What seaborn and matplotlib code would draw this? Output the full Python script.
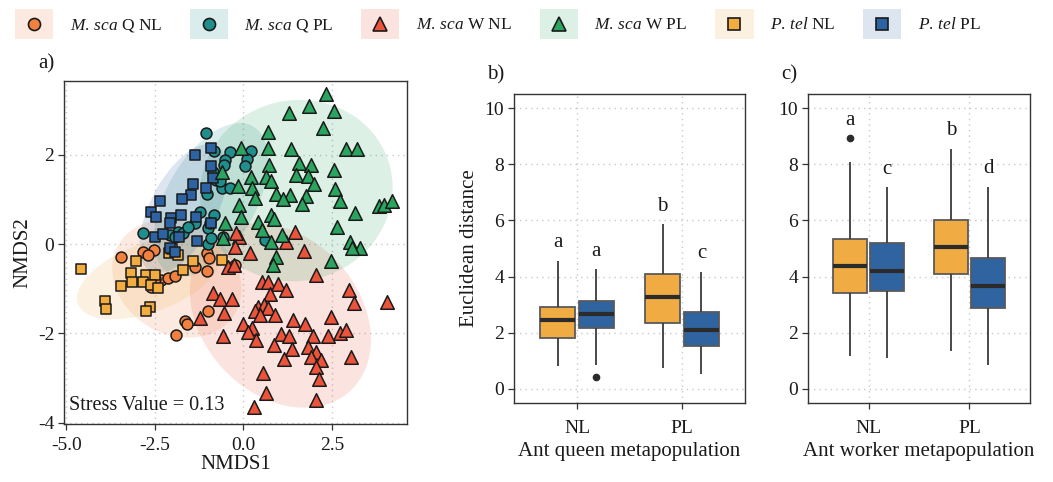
import numpy as np
import pandas as pd
import matplotlib
matplotlib.use("Agg")
import matplotlib.pyplot as plt
import seaborn as sns
from matplotlib.patches import Ellipse, Rectangle
from matplotlib.lines import Line2D

# ---------------- data: panel a (NMDS scores) ----------------
mq_nl_x = [-3.45, -2.85, -2.54, -2.60, -2.32, -2.13, -1.94, -1.38, -1.03, -1.00, -1.66, -1.60,
           -1.92, -0.25, -1.04, -0.97, -2.70, -2.49]
mq_nl_y = [-0.28, -0.17, -0.13, -0.96, -0.81, -0.77, -0.71, -0.51, -0.60, -1.50, -1.72, -1.79,
           -2.04, -0.46, -0.21, -0.32, -0.25, -0.79]

mq_pl_x = [-1.05, -0.82, -0.39, -0.51, -0.56, 0.21, 0.11, 0.04, -0.77, -0.60, -0.39, -1.02,
           -0.82, -1.24, -1.38, -1.00, -0.58, -2.83, -1.85, -1.71, -2.08, -1.94, -1.00, 0.60,
           -0.85, -0.67, -1.56, -0.95, -0.93]
mq_pl_y = [2.48, 2.08, 2.07, 1.88, 1.77, 2.09, 1.90, 1.75, 1.43, 1.25, 1.25, 1.13,
           0.65, 0.72, 0.46, 0.35, 0.16, 0.24, 0.28, 0.24, 0.20, 0.16, 0.01, 0.09,
           1.62, 1.40, 0.39, 0.46, 0.13]

mw_nl_x = [0.18, 1.71, 2.06, 0.51, 0.69, 0.98, 1.21, 2.98, 0.74, 3.12, 4.06, 0.41, 0.58, 0.69,
           0.32, 0.88, 0.46, 1.40, 1.75, 2.46, -0.01, 0.24, 0.13, 1.07, 1.28, 1.96, 2.40, 2.74,
           2.90, 0.35, 0.86, 1.37, 1.82, 2.06, 1.92, 2.18, 1.15, 3.04, 2.06, 0.54, 2.13, 0.63,
           2.04, 0.30, -0.43, -0.26, -0.12, -0.24, -0.85, -0.67, -0.32, -1.23, -0.55, -0.59,
           1.45, 1.21, -0.20]
mw_nl_y = [-0.21, -0.16, -0.69, -0.86, -0.86, -0.90, -1.03, -1.03, -1.13, -1.31, -1.29, -1.40,
           -1.37, -1.44, -1.51, -1.60, -1.59, -1.70, -1.79, -1.64, -1.78, -1.87, -1.98, -2.02,
           -2.07, -2.05, -2.07, -2.00, -1.93, -2.15, -2.26, -2.35, -2.31, -2.41, -2.52, -2.60,
           -2.57, -2.54, -2.75, -2.88, -3.02, -3.34, -3.49, -3.66, -0.51, -0.47, 0.16, -0.06,
           -1.10, -1.22, -1.22, -1.66, -1.55, -2.07, 0.28, 0.05, 0.25]

mw_pl_x = [2.32, 1.84, 2.55, 1.29, 2.24, 0.69, -0.08, 0.69, 1.33, 2.90, 3.21, 0.72, 1.57, 1.90,
           2.55, 0.21, 0.65, 1.49, 1.82, -0.15, 0.23, 0.77, 1.99, 2.60, 0.91, 1.31, 1.12, 0.32,
           1.77, 2.74, 1.66, -0.12, 3.14, 0.77, 0.86, 3.84, 3.98, 4.19, -0.06, 2.65, 0.41, 1.10,
           0.51, 0.79, 3.00, 3.28, 3.07, 0.93, 0.84, 2.46, -0.53, -0.58, -0.62]
mw_pl_y = [3.36, 3.09, 2.98, 2.94, 2.59, 2.50, 2.14, 2.14, 2.12, 2.12, 2.12, 1.78, 1.81, 1.78,
           1.66, 1.51, 1.49, 1.54, 1.53, 1.30, 1.25, 1.40, 1.34, 1.23, 1.13, 1.10, 1.01, 1.02,
           1.07, 0.96, 0.89, 0.87, 0.70, 0.65, 0.55, 0.84, 0.87, 0.97, 0.61, 0.39, 0.50, 0.20,
           0.31, 0.05, 0.05, -0.10, -0.08, -0.30, -0.47, -0.37, 0.48, 0.14, 1.62]

pt_nl_x = [-4.60, -3.92, -3.87, -3.04, -3.19, -3.14, -3.46, -2.76, -2.51, -2.84, -2.60, -2.41,
           -2.63, -2.74, -2.10, -1.85, -1.43, -1.71, -0.60, -2.01]
pt_nl_y = [-0.56, -1.28, -1.46, -0.37, -0.66, -0.86, -0.93, -0.69, -0.69, -0.84, -0.92, -0.99,
           -1.42, -1.51, -0.19, -0.25, -0.38, -0.58, -0.36, -0.12]

pt_pl_x = [-1.38, -0.93, -0.91, -0.86, -1.07, -1.43, -1.47, -1.73, -2.37, -2.60, -2.46, -2.04,
           -1.76, -2.07, -1.35, -0.91, -2.51, -2.27, -1.82, -1.31, -2.08, -1.93]
pt_pl_y = [1.99, 2.14, 1.75, 1.47, 1.26, 1.34, 1.10, 1.01, 0.97, 0.71, 0.61, 0.59,
           0.65, 0.48, 0.61, 0.48, 0.15, 0.22, 0.15, 0.07, -0.10, -0.17]

groups = ["M. sca Q NL", "M. sca Q PL", "M. sca W NL", "M. sca W PL", "P. tel NL", "P. tel PL"]
group_labels = [r"$\mathit{M.\,sca}$ Q NL", r"$\mathit{M.\,sca}$ Q PL",
                r"$\mathit{M.\,sca}$ W NL", r"$\mathit{M.\,sca}$ W PL",
                r"$\mathit{P.\,tel}$ NL", r"$\mathit{P.\,tel}$ PL"]
group_x = [mq_nl_x, mq_pl_x, mw_nl_x, mw_pl_x, pt_nl_x, pt_pl_x]
group_y = [mq_nl_y, mq_pl_y, mw_nl_y, mw_pl_y, pt_nl_y, pt_pl_y]
stress_value = 0.13

# ---------------- data: panels b and c (box summaries) ----------------
box_x = ["NL", "NL", "PL", "PL"]          # ant metapopulation
box_hue = ["NL", "PL", "NL", "PL"]        # P. tel metapopulation
# panel b: queen
q_low = [0.83, 0.85, 0.74, 0.53]
q_q1 = [1.80, 2.16, 2.34, 1.52]
q_med = [2.46, 2.67, 3.26, 2.11]
q_q3 = [2.93, 3.12, 4.09, 2.73]
q_high = [4.54, 4.27, 5.87, 4.18]
q_out = [None, 0.42, None, None]
q_letters = ["a", "a", "b", "c"]
q_letter_y = [5.04, 4.74, 6.35, 4.65]
# panel c: worker
w_low = [1.19, 1.10, 1.34, 0.85]
w_q1 = [3.42, 3.48, 4.09, 2.87]
w_med = [4.39, 4.21, 5.06, 3.68]
w_q3 = [5.34, 5.20, 6.00, 4.66]
w_high = [8.07, 7.18, 8.54, 7.19]
w_out = [8.94, None, None, None]
w_letters = ["a", "c", "b", "d"]
w_letter_y = [9.41, 7.65, 9.04, 7.67]

# ---------------- style ----------------
colors = {"M. sca Q NL": "#F2813F", "M. sca Q PL": "#1F8E8C", "M. sca W NL": "#EC533B",
          "M. sca W PL": "#2AA55F", "P. tel NL": "#F2AC40", "P. tel PL": "#2D63A2"}
markers = {"M. sca Q NL": "o", "M. sca Q PL": "o", "M. sca W NL": "^",
           "M. sca W PL": "^", "P. tel NL": "s", "P. tel PL": "s"}
msize = {"o": 62, "^": 95, "s": 58}
box_palette = {"NL": "#F0AB42", "PL": "#2F64A0"}

sns.set_theme(style="white")
plt.rcParams.update({
    "font.family": ["Liberation Serif", "DejaVu Serif"],
    "mathtext.fontset": "custom",
    "mathtext.rm": "Liberation Serif",
    "mathtext.it": "Liberation Serif:italic",
    "axes.unicode_minus": False,
    "axes.edgecolor": "#333333",
    "axes.linewidth": 1.0,
    "text.color": "#1a1a1a",
    "axes.labelcolor": "#1a1a1a",
    "xtick.color": "#333333",
    "ytick.color": "#333333",
    "xtick.labelcolor": "#1a1a1a",
    "ytick.labelcolor": "#1a1a1a",
})

W, H = 1053, 482
fig = plt.figure(figsize=(W / 100, H / 100), dpi=100)

def px_axes(l, t, r, b):
    return fig.add_axes([l / W, 1 - b / H, (r - l) / W, (b - t) / H])

ax_a = px_axes(64, 81, 407, 424)
ax_b = px_axes(514, 94, 745, 403)
ax_c = px_axes(808, 94, 1030, 403)

grid_kw = dict(color="#c9c9c9", linestyle=(0, (1, 3)), linewidth=1.0)
for ax in (ax_a, ax_b, ax_c):
    ax.set_axisbelow(True)
    ax.grid(True, **grid_kw)
    ax.tick_params(axis="both", which="major", length=4, width=0.9, direction="out",
                   labelsize=14, bottom=True, left=True, pad=3)
    for s in ax.spines.values():
        s.set_visible(True)
        s.set_color("#333333")
        s.set_linewidth(1.0)

# ---------------- panel a ----------------
rows = []
for g, xs, ys in zip(groups, group_x, group_y):
    for xv, yv in zip(xs, ys):
        rows.append({"NMDS1": xv, "NMDS2": yv, "group": g})
df_a = pd.DataFrame(rows)

ell_scale = 2.2
for g in groups:
    sub = df_a[df_a.group == g]
    cov = np.cov(sub.NMDS1, sub.NMDS2)
    vals, vecs = np.linalg.eigh(cov)
    order = vals.argsort()[::-1]
    vals, vecs = vals[order], vecs[:, order]
    ang = np.degrees(np.arctan2(vecs[1, 0], vecs[0, 0]))
    e = Ellipse((sub.NMDS1.mean(), sub.NMDS2.mean()), 2 * ell_scale * np.sqrt(vals[0]),
                2 * ell_scale * np.sqrt(vals[1]), angle=ang, facecolor=colors[g],
                alpha=0.16, edgecolor="none", zorder=1)
    ax_a.add_patch(e)

for g in ["M. sca Q NL", "M. sca Q PL", "P. tel NL", "P. tel PL", "M. sca W NL", "M. sca W PL"]:
    sub = df_a[df_a.group == g]
    sns.scatterplot(data=sub, x="NMDS1", y="NMDS2", color=colors[g], marker=markers[g],
                    s=msize[markers[g]], edgecolor="#1a1a1a", linewidth=1.1, legend=False,
                    ax=ax_a, zorder=3)

ax_a.set_xlim(-5.07, 4.62)
ax_a.set_ylim(-4.03, 3.65)
ax_a.set_xticks([-5.0, -2.5, 0.0, 2.5])
ax_a.set_xticklabels(["-5.0", "-2.5", "0.0", "2.5"])
ax_a.set_yticks([-4, -2, 0, 2])
ax_a.set_yticklabels(["-4", "-2", "0", "2"])
ax_a.tick_params(axis="x", pad=5)
ax_a.set_xlabel("NMDS1", fontsize=15, labelpad=1)
ax_a.set_ylabel("NMDS2", fontsize=15, labelpad=4)
ax_a.text(-4.92, -3.62, f"Stress Value = {stress_value:.2f}", fontsize=14.5, va="center", ha="left",
          zorder=5)

# ---------------- panels b, c ----------------
def box_frame(low, q1, med, q3, high, out):
    rows = []
    for xv, hv, lo, a, m, b, hi, o in zip(box_x, box_hue, low, q1, med, q3, high, out):
        if o is None:
            vals = [lo, a, m, b, hi]
        elif o < lo:
            vals = [o, lo, a, a, m, b, b, hi, hi]
        else:
            vals = [lo, lo, a, a, m, b, b, hi, o]
        for v in vals:
            rows.append({"pop": xv, "ptel": hv, "dist": v})
    return pd.DataFrame(rows)

def draw_box(ax, df, letters, letter_y, xlabel):
    sns.boxplot(data=df, x="pop", y="dist", hue="ptel", order=["NL", "PL"], hue_order=["NL", "PL"],
                palette=box_palette, saturation=1, width=0.74, gap=0.09, showcaps=False,
                linecolor="#5a5a5a", linewidth=1.3, fliersize=4.5, legend=False, ax=ax,
                medianprops=dict(color="#2b2b2b", linewidth=3),
                whiskerprops=dict(color="#3a3a3a", linewidth=1.3),
                flierprops=dict(marker="o", markerfacecolor="#2b2b2b", markeredgecolor="#2b2b2b"))
    pos = {"NL": 0, "PL": 1}
    off = {"NL": -0.185, "PL": 0.185}
    for xv, hv, lab, ly in zip(box_x, box_hue, letters, letter_y):
        ax.text(pos[xv] + off[hv], ly, lab, ha="center", va="baseline", fontsize=15)
    ax.set_xlim(-0.6, 1.6)
    ax.set_ylim(-0.5, 10.5)
    ax.set_yticks([0, 2, 4, 6, 8, 10])
    ax.tick_params(axis="x", pad=8)
    ax.set_xlabel(xlabel, fontsize=15, labelpad=4)
    ax.grid(True, **grid_kw)

draw_box(ax_b, box_frame(q_low, q_q1, q_med, q_q3, q_high, q_out), q_letters, q_letter_y,
         "Ant queen metapopulation")
ax_b.set_ylabel("Euclidean distance", fontsize=15, labelpad=4)
draw_box(ax_c, box_frame(w_low, w_q1, w_med, w_q3, w_high, w_out), w_letters, w_letter_y,
         "Ant worker metapopulation")
ax_c.set_ylabel("")

# ---------------- panel tags ----------------
fig.text(38 / W, 1 - 64 / H, "a)", fontsize=15, va="center")
fig.text(487 / W, 1 - 75 / H, "b)", fontsize=15, va="center")
fig.text(781 / W, 1 - 75 / H, "c)", fontsize=15, va="center")

# ---------------- legend ----------------
class KeyHandle:
    def __init__(self, color, marker, size):
        self.color, self.marker, self.size = color, marker, size

class KeyHandler:
    def legend_artist(self, legend, orig_handle, fontsize, handlebox):
        x0, y0 = handlebox.xdescent, handlebox.ydescent
        w, h = handlebox.width, handlebox.height
        rect = Rectangle((-x0, -y0), w, h, facecolor=orig_handle.color, alpha=0.16,
                         edgecolor="none", transform=handlebox.get_transform())
        handlebox.add_artist(rect)
        mk = Line2D([-x0 + w / 2], [-y0 + h / 2], linestyle="none", marker=orig_handle.marker,
                    markersize=orig_handle.size, markerfacecolor=orig_handle.color,
                    markeredgecolor="#1a1a1a", markeredgewidth=1.2,
                    transform=handlebox.get_transform())
        handlebox.add_artist(mk)
        return rect

handles = [KeyHandle(colors[g], markers[g], np.sqrt(msize[markers[g]]) * 1.1) for g in groups]
fig.legend(handles, group_labels, handler_map={KeyHandle: KeyHandler()}, ncol=6,
           loc="center left", bbox_to_anchor=(15 / W, 1 - 24 / H), frameon=False, fontsize=12.5,
           handlelength=2.2, handleheight=2.2, handletextpad=0.95, columnspacing=1.6,
           borderpad=0, borderaxespad=0)

fig.savefig("out.png", dpi=100)
